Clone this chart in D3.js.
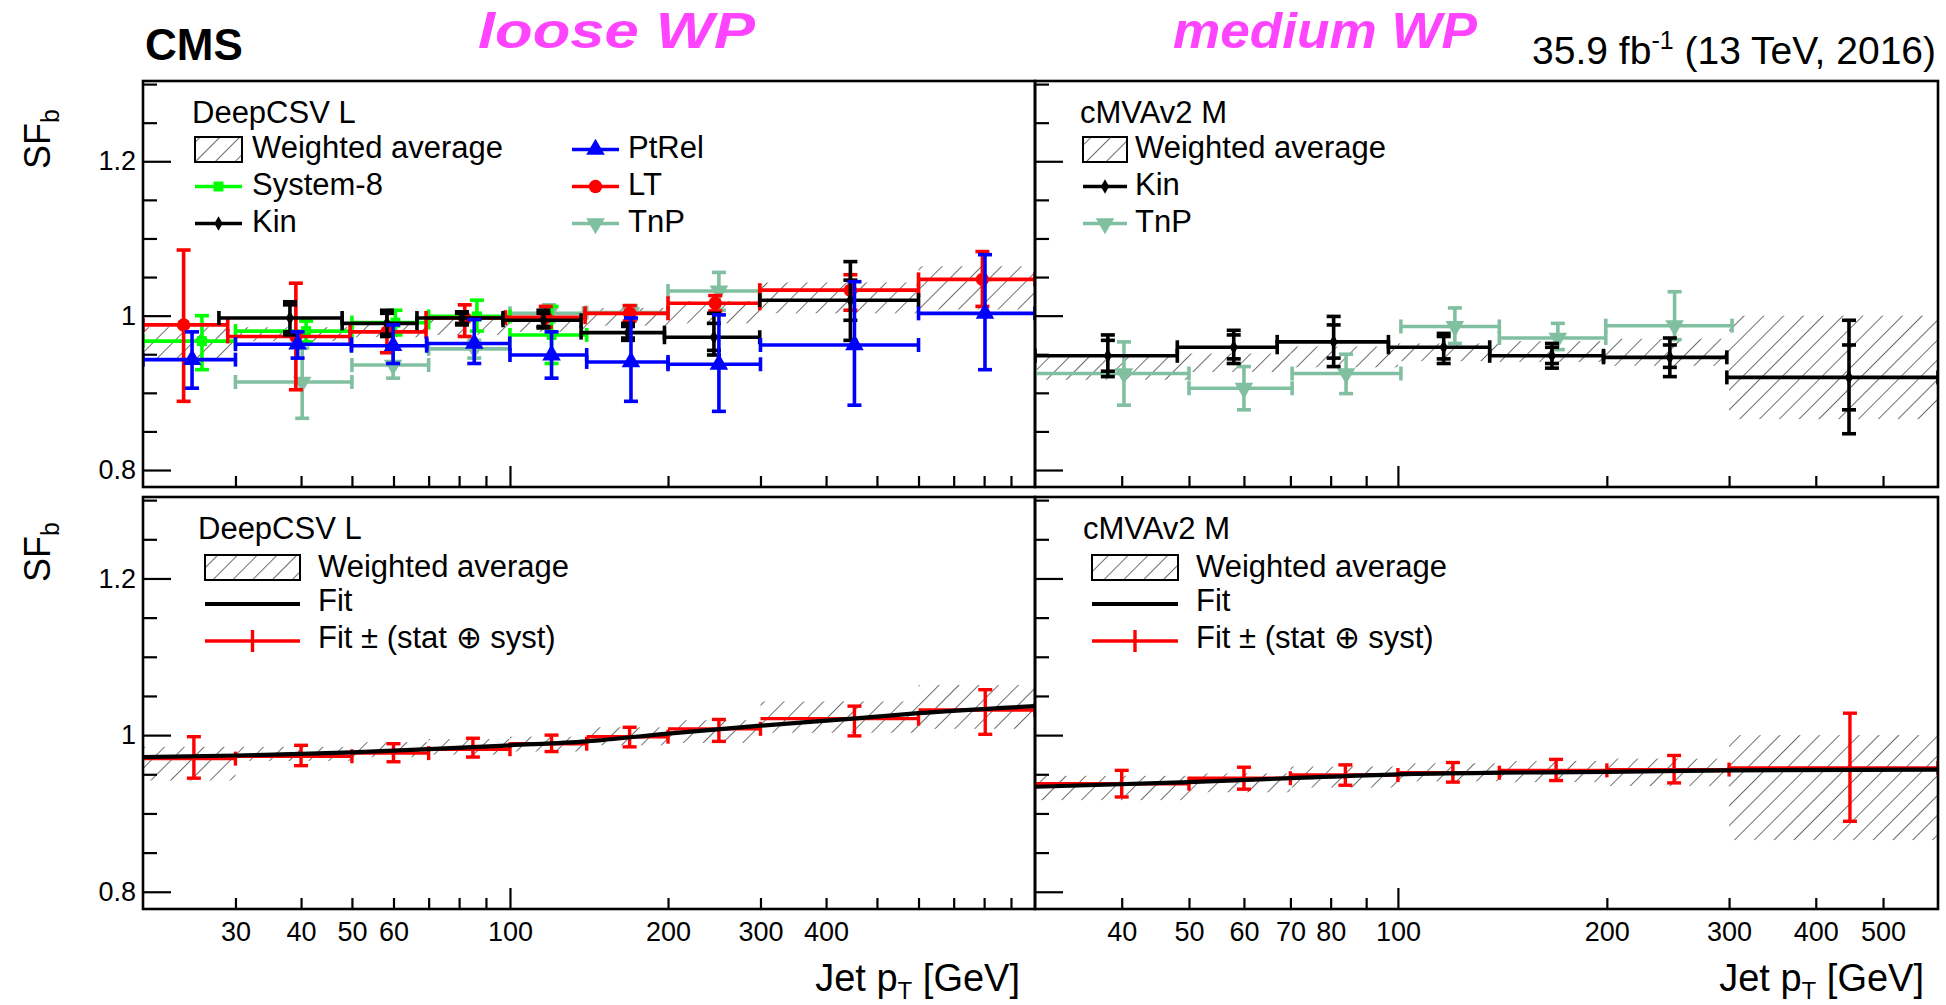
<!DOCTYPE html>
<html>
<head>
<meta charset="utf-8">
<script src="https://cdn.jsdelivr.net/npm/d3@7"></script>
<style>
  html, body { margin: 0; padding: 0; background: #fff; }
  svg text { font-family: "Liberation Sans", Arial, Helvetica, sans-serif; fill: #000; }
</style>
</head>
<body>
<svg id="chart" width="1946" height="1005"></svg>
<script>
// ---------- b-jet identification scale factors vs jet pT ----------

// combination bin edges (GeV)
const looseBins  = [20, 30, 50, 70, 100, 140, 200, 300, 600, 1000];
const mediumBins = [30, 50, 70, 100, 140, 200, 300, 600];

// weighted average of all methods: band low / high edge per bin
const looseAvgLow   = [0.942, 0.967, 0.972, 0.975, 0.979, 0.987, 0.990, 1.003, 1.008];
const looseAvgHigh  = [0.985, 0.985, 0.991, 0.995, 0.998, 1.010, 1.019, 1.043, 1.064];
const mediumAvgLow  = [0.917, 0.927, 0.933, 0.941, 0.940, 0.935, 0.866];
const mediumAvgHigh = [0.948, 0.951, 0.960, 0.964, 0.967, 0.970, 1.000];

// single-method measurements: [pT low, pT high, pT centre, SF, SF low, SF high]
const looseSystem8 = [
  [20, 30, 25.9, 0.967, 0.930, 1.000],
  [30, 50, 40.9, 0.980, 0.966, 0.993],
  [50, 70, 60.5, 0.991, 0.975, 1.007],
  [70, 100, 86.5, 0.999, 0.980, 1.020],
  [100, 140, 120, 0.975, 0.938, 1.012]
];
const looseLT = [
  [20, 29, 23.9, 0.988, 0.889, 1.085],
  [29, 49.6, 39.1, 0.973, 0.904, 1.042],
  [49.6, 69.2, 58.3, 0.979, 0.952, 1.006],
  [69.2, 98, 82, 0.997, 0.973, 1.014],
  [98, 139, 117, 0.998, 0.985, 1.012],
  [139, 200, 169, 1.003, 0.993, 1.013],
  [200, 299, 246, 1.016, 1.006, 1.026],
  [299, 600, 445, 1.033, 1.007, 1.053],
  [600, 1000, 794, 1.047, 1.012, 1.083]
];
const looseTnP = [
  [30, 50, 40.2, 0.914, 0.867, 0.958],
  [50, 70, 59.9, 0.936, 0.919, 0.960],
  [70, 100, 85.5, 0.957, 0.945, 0.968],
  [100, 138, 118.6, 1.003, 0.992, 1.014],
  [140, 200, 170, 1.004, 0.995, 1.013],
  [200, 300, 250, 1.032, 1.007, 1.056]
];
const looseKin = [
  [27.9, 47.9, 38.1, 0.997, 0.975, 1.018],
  [47.9, 66.5, 58.3, 0.990, 0.973, 1.007],
  [66.5, 97, 81, 0.997, 0.988, 1.005],
  [97, 136.6, 115.8, 0.994, 0.984, 1.007],
  [136.6, 196.9, 167.8, 0.978, 0.968, 0.990],
  [196.9, 299, 244.6, 0.972, 0.949, 1.003],
  [299, 600, 445, 1.020, 0.968, 1.070]
];
// Kin statistical-only interval [SF low, SF high]
const looseKinStat = [
  [0.979, 1.014], [0.976, 1.003], [0.990, 1.003], [0.986, 1.003],
  [0.971, 0.986], [0.955, 0.990], [0.994, 1.046]
];
const loosePtRel = [
  [20, 30, 24.8, 0.943, 0.906, 0.979],
  [30, 49.9, 39.4, 0.963, 0.945, 0.979],
  [49.9, 69.4, 59.9, 0.961, 0.938, 0.988],
  [69.4, 99.9, 85.5, 0.964, 0.938, 0.995],
  [100, 140, 120, 0.949, 0.919, 0.979],
  [140, 200, 170, 0.940, 0.889, 0.997],
  [200, 300, 250, 0.937, 0.876, 1.001],
  [300, 600, 453, 0.962, 0.884, 1.044],
  [600, 1000, 803, 1.003, 0.930, 1.079]
];
const mediumKin = [
  [30, 48.1, 38.2, 0.948, 0.921, 0.975],
  [48.1, 67, 58, 0.959, 0.938, 0.981],
  [67, 96.9, 80.8, 0.966, 0.934, 0.999],
  [96.9, 135.6, 116.4, 0.959, 0.938, 0.977],
  [135.6, 197.8, 166.7, 0.948, 0.932, 0.964],
  [197.8, 297.8, 246.5, 0.946, 0.921, 0.971],
  [297.8, 600, 446.6, 0.920, 0.847, 0.994]
];
const mediumKinStat = [
  [0.928, 0.968], [0.944, 0.975], [0.945, 0.988], [0.944, 0.973],
  [0.938, 0.959], [0.933, 0.962], [0.878, 0.962]
];
const mediumTnP = [
  [30, 50, 40.3, 0.925, 0.884, 0.966],
  [50, 70.4, 60, 0.906, 0.878, 0.934],
  [70.4, 101, 84.2, 0.925, 0.899, 0.950],
  [101, 140, 120.8, 0.986, 0.964, 1.010],
  [140, 199.3, 170, 0.971, 0.956, 0.990],
  [199.3, 303, 250.4, 0.987, 0.969, 1.031]
];

// fitted SF(pT) curve
const looseFitPt  = [20, 30, 40, 50, 70, 100, 140, 200, 300, 450, 600, 1000];
const looseFitSF  = [0.972, 0.974, 0.976, 0.978, 0.982, 0.987, 0.992, 1.002, 1.012, 1.021, 1.028, 1.037];
const mediumFitPt = [30, 50, 70, 100, 140, 200, 300, 600];
const mediumFitSF = [0.934, 0.940, 0.945, 0.950, 0.952, 0.953, 0.955, 0.956];

// fit ± (stat ⊕ syst) evaluated per bin: pT centre, SF, SF low, SF high
const looseFitErrPt   = [25, 40, 60, 85, 120, 169, 250, 453, 804];
const looseFitErrSF   = [0.970, 0.973, 0.977, 0.982, 0.989, 0.998, 1.008, 1.021, 1.032];
const looseFitErrLow  = [0.945, 0.961, 0.966, 0.972, 0.979, 0.985, 0.992, 0.999, 1.001];
const looseFitErrHigh = [0.998, 0.987, 0.989, 0.996, 1.000, 1.010, 1.020, 1.037, 1.058];
const mediumFitErrPt   = [40, 60, 84, 120, 169, 250, 448];
const mediumFitErrSF   = [0.938, 0.945, 0.949, 0.952, 0.955, 0.956, 0.958];
const mediumFitErrLow  = [0.921, 0.931, 0.936, 0.940, 0.942, 0.939, 0.890];
const mediumFitErrHigh = [0.955, 0.959, 0.962, 0.965, 0.969, 0.974, 1.028];

// axis labels
const looseTickLabels  = [30, 40, 50, 60, 100, 200, 300, 400];
const mediumTickLabels = [40, 50, 60, 70, 80, 100, 200, 300, 400, 500];
const sfTickLabels     = [0.8, 1, 1.2];

// ---------- layout ----------
const svg = d3.select("#chart");
const FONT = '"Liberation Sans", Arial, Helvetica, sans-serif';
const colors = {
  system8: "#00ff00", kin: "#000000", ptrel: "#0000ff",
  lt: "#ff0000", tnp: "#80c0a0", hatch: "#555555", wp: "#ff44ff"
};
const box = {
  left:   { x0: 143, x1: 1035 },
  right:  { x0: 1035, x1: 1938 },
  top:    { y0: 81,  y1: 487 },
  bottom: { y0: 497, y1: 909 }
};
const yDomain = [0.778, 1.304];

const xLoose  = d3.scaleLog().domain([20, 1000]).range([box.left.x0, box.left.x1]);
const xMedium = d3.scaleLog().domain([30, 600]).range([box.right.x0, box.right.x1]);
const yTop    = d3.scaleLinear().domain(yDomain).range([box.top.y1, box.top.y0]);
const yBottom = d3.scaleLinear().domain(yDomain).range([box.bottom.y1, box.bottom.y0]);

const defs = svg.append("defs");
defs.append("pattern")
  .attr("id", "hatch").attr("patternUnits", "userSpaceOnUse")
  .attr("width", 14).attr("height", 14).attr("patternTransform", "rotate(45)")
  .append("line").attr("x1", 0).attr("y1", 0).attr("x2", 0).attr("y2", 14)
  .attr("stroke", colors.hatch).attr("stroke-width", 1.7);

// ---------- helpers ----------
function minorTicks(domain) {
  const out = [];
  for (let dec = 10; dec < domain[1]; dec *= 10)
    for (let m = 2; m < 10; m++) {
      const v = dec * m;
      if (v > domain[0] && v < domain[1]) out.push(v);
    }
  return out;
}
function majorTicks(domain) {
  const out = [];
  for (let v = 10; v < domain[1]; v *= 10) if (v > domain[0]) out.push(v);
  return out;
}

function drawPanel(x, y, key, cfg) {
  const g = svg.append("g");
  const [x0, x1] = x.range();
  const [y1, y0] = y.range();
  const clipId = "clip-" + key;
  defs.append("clipPath").attr("id", clipId)
    .append("rect").attr("x", x0).attr("y", y0).attr("width", x1 - x0).attr("height", y1 - y0);
  const plot = g.append("g").attr("clip-path", `url(#${clipId})`);

  // x axis: minor and major ticks pointing inward
  const xMinor = d3.axisBottom(x).tickValues(minorTicks(x.domain())).tickSize(-11).tickFormat("");
  const xMajor = d3.axisBottom(x).tickValues(majorTicks(x.domain())).tickSize(-21).tickFormat("");
  g.append("g").attr("transform", `translate(0,${y1})`).call(xMinor);
  g.append("g").attr("transform", `translate(0,${y1})`).call(xMajor);
  if (cfg.xLabels) {
    const xl = d3.axisBottom(x).tickValues(cfg.xLabels).tickSize(0).tickPadding(13)
      .tickFormat(d3.format("d"));
    g.append("g").attr("class", "xlab").attr("transform", `translate(0,${y1})`).call(xl);
  }
  // y axis
  const yMinorVals = d3.range(0.85, 1.31, 0.05).filter(v => Math.abs(v - 1) > 0.01 && Math.abs(v - 1.2) > 0.01);
  const yMinor = d3.axisLeft(y).tickValues(yMinorVals).tickSize(-14).tickFormat("");
  const yMajor = d3.axisLeft(y).tickValues(sfTickLabels).tickSize(-28)
    .tickPadding(7).tickFormat(cfg.yLabels ? (d => d3.format("")(d)) : "");
  g.append("g").attr("transform", `translate(${x0},0)`).call(yMinor);
  g.append("g").attr("class", "ylab").attr("transform", `translate(${x0},0)`).call(yMajor);

  g.selectAll(".domain").remove();
  g.selectAll(".tick line").attr("stroke", "#000").attr("stroke-width", 2.2);
  g.selectAll(".xlab text").attr("font-size", 27).attr("font-family", FONT).attr("fill", "#000");
  g.selectAll(".ylab text").attr("font-size", 27).attr("font-family", FONT).attr("fill", "#000");

  return { g, plot, x, y, frame: [x0, x1, y0, y1] };
}

function drawFrame(p) {
  const [x0, x1, y0, y1] = p.frame;
  p.g.append("rect").attr("x", x0).attr("y", y0).attr("width", x1 - x0).attr("height", y1 - y0)
    .attr("fill", "none").attr("stroke", "#000").attr("stroke-width", 2.6);
}

function drawBand(p, bins, low, high) {
  const rows = low.map((l, i) => ({ lo: bins[i], hi: bins[i + 1], l, h: high[i] }));
  p.plot.append("g").selectAll("rect").data(rows).join("rect")
    .attr("x", d => p.x(d.lo)).attr("width", d => p.x(d.hi) - p.x(d.lo))
    .attr("y", d => p.y(d.h)).attr("height", d => p.y(d.l) - p.y(d.h))
    .attr("fill", "url(#hatch)");
}

function markerPath(shape, size) {
  const types = {
    circle: d3.symbolCircle, square: d3.symbolSquare, up: d3.symbolTriangle,
    down: d3.symbolTriangle, diamond: d3.symbolDiamond
  };
  return d3.symbol().type(types[shape]).size(size)();
}

function drawSeries(p, rows, color, shape, size, stat) {
  const lw = 3.6, cap = 7, tick = 7;
  const data = rows.map((r, i) => ({
    lo: r[0], hi: r[1], c: r[2], v: r[3], el: r[4], eh: r[5],
    sl: stat ? stat[i][0] : null, sh: stat ? stat[i][1] : null
  }));
  const s = p.plot.append("g").attr("stroke", color).attr("stroke-width", lw).attr("fill", "none");
  const grp = s.selectAll("g").data(data).join("g");
  grp.append("line").attr("x1", d => p.x(d.lo)).attr("x2", d => p.x(d.hi))
    .attr("y1", d => p.y(d.v)).attr("y2", d => p.y(d.v));
  grp.append("line").attr("x1", d => p.x(d.lo)).attr("x2", d => p.x(d.lo))
    .attr("y1", d => p.y(d.v) - tick).attr("y2", d => p.y(d.v) + tick);
  grp.append("line").attr("x1", d => p.x(d.hi)).attr("x2", d => p.x(d.hi))
    .attr("y1", d => p.y(d.v) - tick).attr("y2", d => p.y(d.v) + tick);
  grp.append("line").attr("x1", d => p.x(d.c)).attr("x2", d => p.x(d.c))
    .attr("y1", d => p.y(d.el)).attr("y2", d => p.y(d.eh));
  const caps = ["el", "eh"].concat(stat ? ["sl", "sh"] : []);
  caps.forEach(k => {
    grp.append("line").attr("x1", d => p.x(d.c) - cap).attr("x2", d => p.x(d.c) + cap)
      .attr("y1", d => p.y(d[k])).attr("y2", d => p.y(d[k]));
  });
  grp.append("path").attr("d", markerPath(shape, size))
    .attr("transform", d => `translate(${p.x(d.c)},${p.y(d.v)})` + (shape === "down" ? " rotate(180)" : ""))
    .attr("fill", color).attr("stroke", "none");
}

function drawFit(p, pts, sfs) {
  const line = d3.line().x(d => p.x(d[0])).y(d => p.y(d[1])).curve(d3.curveMonotoneX);
  p.plot.append("path").attr("d", line(pts.map((v, i) => [v, sfs[i]])))
    .attr("fill", "none").attr("stroke", "#000").attr("stroke-width", 4.2);
}

function drawFitErrors(p, bins, pts, sfs, lows, highs) {
  const data = pts.map((c, i) => ({ lo: bins[i], hi: bins[i + 1], c, v: sfs[i], el: lows[i], eh: highs[i] }));
  const s = p.plot.append("g").attr("stroke", colors.lt).attr("stroke-width", 3.4);
  const grp = s.selectAll("g").data(data).join("g");
  grp.append("line").attr("x1", d => p.x(d.lo)).attr("x2", d => p.x(d.hi))
    .attr("y1", d => p.y(d.v)).attr("y2", d => p.y(d.v));
  grp.append("line").attr("x1", d => p.x(d.hi)).attr("x2", d => p.x(d.hi))
    .attr("y1", d => p.y(d.v) - 7).attr("y2", d => p.y(d.v) + 7);
  grp.append("line").attr("x1", d => p.x(d.c)).attr("x2", d => p.x(d.c))
    .attr("y1", d => p.y(d.el)).attr("y2", d => p.y(d.eh));
  grp.append("line").attr("x1", d => p.x(d.c) - 7).attr("x2", d => p.x(d.c) + 7)
    .attr("y1", d => p.y(d.el)).attr("y2", d => p.y(d.el));
  grp.append("line").attr("x1", d => p.x(d.c) - 7).attr("x2", d => p.x(d.c) + 7)
    .attr("y1", d => p.y(d.eh)).attr("y2", d => p.y(d.eh));
}

// ---------- legend helpers ----------
const LFS = 31;
function legendText(x, y, str) {
  return svg.append("text").attr("x", x).attr("y", y).attr("font-size", LFS).text(str);
}
function legendBox(x0, x1, base) {
  svg.append("rect").attr("x", x0).attr("y", base - 21).attr("width", x1 - x0).attr("height", 25)
    .attr("fill", "url(#hatch)").attr("stroke", "#000").attr("stroke-width", 2);
}
function legendMarker(x0, x1, base, color, shape, size) {
  const yc = base - 8.5, xc = (x0 + x1) / 2;
  svg.append("line").attr("x1", x0).attr("x2", x1).attr("y1", yc).attr("y2", yc)
    .attr("stroke", color).attr("stroke-width", 3.6);
  svg.append("path").attr("d", markerPath(shape, size))
    .attr("transform", `translate(${xc},${yc})` + (shape === "down" ? " rotate(180)" : ""))
    .attr("fill", color);
}

// ---------- panels ----------
const pTL = drawPanel(xLoose, yTop, "tl", { yLabels: true });
const pTR = drawPanel(xMedium, yTop, "tr", { yLabels: false });
const pBL = drawPanel(xLoose, yBottom, "bl", { yLabels: true, xLabels: looseTickLabels });
const pBR = drawPanel(xMedium, yBottom, "br", { yLabels: false, xLabels: mediumTickLabels });

// loose WP, individual methods
drawBand(pTL, looseBins, looseAvgLow, looseAvgHigh);
drawSeries(pTL, looseTnP, colors.tnp, "down", 150);
drawSeries(pTL, looseSystem8, colors.system8, "square", 100);
drawSeries(pTL, looseLT, colors.lt, "circle", 140);
drawSeries(pTL, looseKin, colors.kin, "diamond", 60, looseKinStat);
drawSeries(pTL, loosePtRel, colors.ptrel, "up", 150);

// medium WP, individual methods
drawBand(pTR, mediumBins, mediumAvgLow, mediumAvgHigh);
drawSeries(pTR, mediumTnP, colors.tnp, "down", 150);
drawSeries(pTR, mediumKin, colors.kin, "diamond", 60, mediumKinStat);

// fits
drawBand(pBL, looseBins, looseAvgLow, looseAvgHigh);
drawFitErrors(pBL, looseBins, looseFitErrPt, looseFitErrSF, looseFitErrLow, looseFitErrHigh);
drawFit(pBL, looseFitPt, looseFitSF);
drawBand(pBR, mediumBins, mediumAvgLow, mediumAvgHigh);
drawFitErrors(pBR, mediumBins, mediumFitErrPt, mediumFitErrSF, mediumFitErrLow, mediumFitErrHigh);
drawFit(pBR, mediumFitPt, mediumFitSF);

[pTL, pTR, pBL, pBR].forEach(drawFrame);

// ---------- legends ----------
// top left
legendText(192, 123, "DeepCSV L");
legendBox(195, 242, 158);
legendText(252, 158, "Weighted average");
legendMarker(195, 242, 195, colors.system8, "square", 100);
legendText(252, 195, "System-8");
legendMarker(195, 242, 232, colors.kin, "diamond", 60);
legendText(252, 232, "Kin");
legendMarker(572, 619, 158, colors.ptrel, "up", 150);
legendText(628, 158, "PtRel");
legendMarker(572, 619, 195, colors.lt, "circle", 140);
legendText(628, 195, "LT");
legendMarker(572, 619, 232, colors.tnp, "down", 150);
legendText(628, 232, "TnP");

// top right
legendText(1080, 123, "cMVAv2 M");
legendBox(1083, 1127, 158);
legendText(1135, 158, "Weighted average");
legendMarker(1083, 1127, 195, colors.kin, "diamond", 60);
legendText(1135, 195, "Kin");
legendMarker(1083, 1127, 232, colors.tnp, "down", 150);
legendText(1135, 232, "TnP");

// bottom panels
function fitLegend(xt, xb0, xb1, title) {
  legendText(xt, 539, title);
  legendBox(xb0, xb1, 576);
  legendText(xb1 + 18, 577, "Weighted average");
  svg.append("line").attr("x1", xb0).attr("x2", xb1).attr("y1", 604).attr("y2", 604)
    .attr("stroke", "#000").attr("stroke-width", 4.2);
  legendText(xb1 + 18, 611, "Fit");
  svg.append("line").attr("x1", xb0).attr("x2", xb1).attr("y1", 641).attr("y2", 641)
    .attr("stroke", colors.lt).attr("stroke-width", 3.4);
  svg.append("line").attr("x1", (xb0 + xb1) / 2).attr("x2", (xb0 + xb1) / 2).attr("y1", 630).attr("y2", 652)
    .attr("stroke", colors.lt).attr("stroke-width", 3.4);
  legendText(xb1 + 18, 648, "Fit ± (stat ⊕ syst)");
}
fitLegend(198, 205, 300, "DeepCSV L");
fitLegend(1083, 1092, 1178, "cMVAv2 M");

// ---------- titles ----------
svg.append("text").attr("x", 145).attr("y", 60).attr("font-size", 44).attr("font-weight", "bold").text("CMS");
svg.append("text").attr("x", 478).attr("y", 48).attr("font-size", 50).attr("font-weight", "bold")
  .attr("font-style", "italic").attr("textLength", 277).attr("lengthAdjust", "spacingAndGlyphs")
  .style("fill", colors.wp).text("loose WP");
svg.append("text").attr("x", 1173).attr("y", 48).attr("font-size", 50).attr("font-weight", "bold")
  .attr("font-style", "italic").attr("textLength", 304).attr("lengthAdjust", "spacingAndGlyphs")
  .style("fill", colors.wp).text("medium WP");
const lumi = svg.append("text").attr("x", 1936).attr("y", 64).attr("font-size", 39).attr("text-anchor", "end");
lumi.append("tspan").text("35.9 fb");
lumi.append("tspan").attr("dy", -15).attr("font-size", 25).text("-1");
lumi.append("tspan").attr("dy", 15).text(" (13 TeV, 2016)");

function sfTitle(yc) {
  const t = svg.append("text").attr("transform", `translate(50,${yc}) rotate(-90)`)
    .attr("font-size", 36).attr("text-anchor", "middle");
  t.append("tspan").text("SF");
  t.append("tspan").attr("dy", 9).attr("font-size", 25).text("b");
}
sfTitle(139);
sfTitle(552);

function ptTitle(xe) {
  const t = svg.append("text").attr("x", xe).attr("y", 991).attr("font-size", 38).attr("text-anchor", "end");
  t.append("tspan").text("Jet p");
  t.append("tspan").attr("dy", 8).attr("font-size", 24).text("T");
  t.append("tspan").attr("dy", -8).text(" [GeV]");
}
ptTitle(1020);
ptTitle(1924);
</script>
</body>
</html>
